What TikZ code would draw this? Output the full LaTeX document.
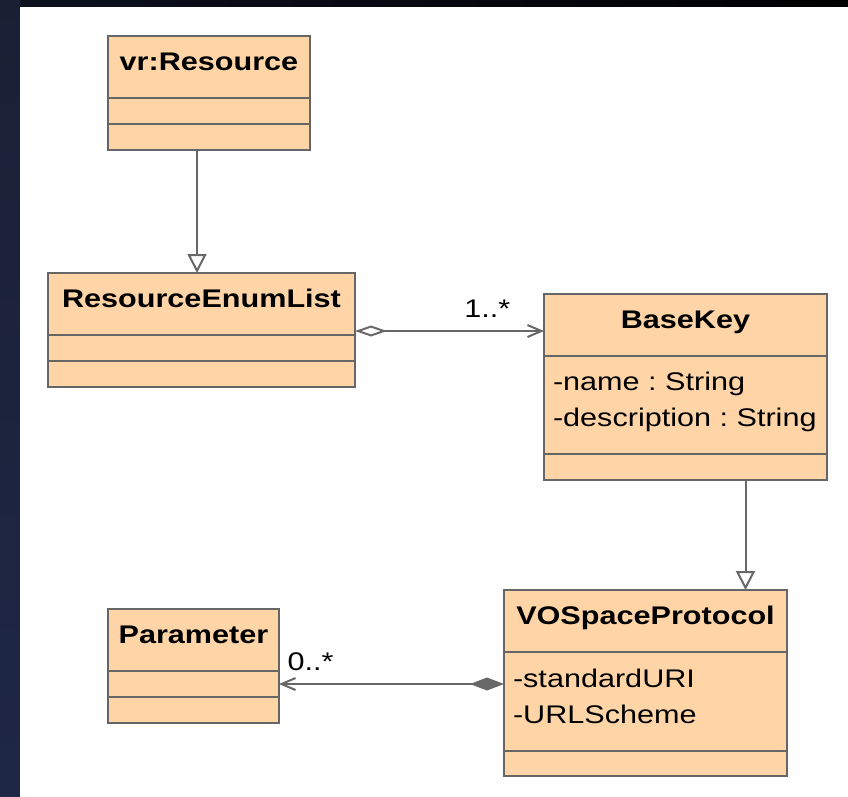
\documentclass[tikz,border=0pt]{standalone}
\usepackage{fontspec}
\setmainfont[FakeStretch=1.2]{Liberation Sans}
\usepackage{tikz}
\usetikzlibrary{arrows.meta}
\usetikzlibrary{positioning}
\definecolor{classfill}{RGB}{255,213,167}
\definecolor{classline}{RGB}{102,102,102}
\definecolor{linkline}{RGB}{104,104,104}
\definecolor{bgtop}{RGB}{26,32,52}
\definecolor{bgmid}{RGB}{13,17,32}
\definecolor{bgbot}{RGB}{30,39,70}
\tikzset{classbox/.style={draw=classline, fill=classfill, line width=2.5pt, outer sep=0pt, inner ysep=0pt}}
\tikzset{classhead/.style={classbox, font=\fontsize{25.5}{36}\selectfont\bfseries, text height=34pt, text depth=28pt, inner xsep=0pt}}
\tikzset{attrs/.style={classbox, font=\fontsize{25.5}{36}\selectfont, align=left, inner xsep=9pt}}
\tikzset{opsbox/.style={classbox, minimum height=26pt, inner sep=0pt}}
\tikzset{mult/.style={font=\fontsize{25.5}{30}\selectfont, inner sep=0pt}}
\tikzset{genarrow/.style={draw=linkline, line width=2pt, -{Triangle[open, length=19pt, width=19pt]}}}
\tikzset{aggr/.style={draw=linkline, line width=2pt, {Diamond[open, length=32pt, width=11pt]}-{Straight Barb[length=14pt, width=12pt]}}}
\tikzset{compo/.style={draw=linkline, line width=2pt, {Diamond[length=34pt, width=13pt]}-{Straight Barb[length=14pt, width=12pt]}}}

\begin{document}
\begin{tikzpicture}[x=1pt, y=-1pt]
\useasboundingbox (0,0) rectangle (848,796);
% backdrop
\shade[left color=bgmid, right color=black] (-2,-2) rectangle (850,800);
\shade[top color=bgtop, middle color=bgmid, bottom color=bgbot] (-2,-2) rectangle (20,800);
\fill[white] (20,7) rectangle (852,802);

% vr:Resource
\node[classhead, minimum width=202pt, anchor=north west] (resHead) at (108,36) {vr:Resource};
\node[opsbox, minimum width=202pt, below=0pt of resHead] (resAttr) {};
\node[opsbox, minimum width=202pt, below=0pt of resAttr] (resOps) {};

% ResourceEnumList
\node[classhead, minimum width=307pt, anchor=north west] (enumHead) at (48,273) {ResourceEnumList};
\node[opsbox, minimum width=307pt, below=0pt of enumHead] (enumAttr) {};
\node[opsbox, minimum width=307pt, below=0pt of enumAttr] (enumOps) {};

% BaseKey
\node[classhead, minimum width=283pt, anchor=north west] (keyHead) at (544,294) {BaseKey};
\node[attrs, text width=265pt, minimum width=283pt, below=0pt of keyHead] (keyAttr)
  {\rule{0pt}{34pt}-name~:~String\\-description~:~String\rule[-28pt]{0pt}{28pt}};
\node[opsbox, minimum width=283pt, below=0pt of keyAttr] (keyOps) {};

% VOSpaceProtocol
\node[classhead, minimum width=283pt, anchor=north west] (vosHead) at (504,590) {VOSpaceProtocol};
\node[attrs, text width=265pt, minimum width=283pt, below=0pt of vosHead] (vosAttr)
  {\rule{0pt}{35pt}-standardURI\\-URLScheme\rule[-28pt]{0pt}{28pt}};
\node[opsbox, minimum width=283pt, minimum height=25pt, below=0pt of vosAttr] (vosOps) {};

% Parameter
\node[classhead, minimum width=171pt, anchor=north west] (parHead) at (108,609) {Parameter};
\node[opsbox, minimum width=171pt, below=0pt of parHead] (parAttr) {};
\node[opsbox, minimum width=171pt, below=0pt of parAttr] (parOps) {};

% links
\draw[genarrow] ([xshift=-12pt]resOps.south) -- ([xshift=-12pt]resOps.south |- enumHead.north);
\draw[genarrow] ([xshift=60pt]keyOps.south) -- ([xshift=60pt]keyOps.south |- vosHead.north);
\draw[aggr] ([yshift=-27pt]enumHead.east) -- ([yshift=-27pt]enumHead.east -| keyHead.west)
  node[mult, pos=0.7, above=13pt] {1..*};
\draw[compo] (vosAttr.west |- parAttr.east) -- (parAttr.east)
  node[mult, pos=0.86, above=12pt] {0..*};

\end{tikzpicture}
\end{document}
